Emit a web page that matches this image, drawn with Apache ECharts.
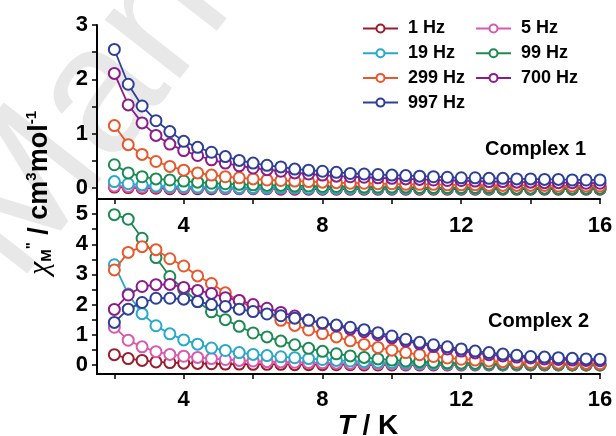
<!DOCTYPE html>
<html>
<head>
<meta charset="utf-8">
<title>chi'' vs T</title>
<script src="https://cdn.jsdelivr.net/npm/echarts@6/dist/echarts.min.js"></script>
<style>
    html, body { margin: 0; padding: 0; background: #fff; }
    #main { width: 616px; height: 436px; }
</style>
</head>
<body>
<div id="main"></div>
<script>
    // temperatures (K), shared by every curve
    var temps = [2.0, 2.4, 2.8, 3.2, 3.6, 4.0, 4.4, 4.8, 5.2, 5.6, 6.0, 6.4, 6.8, 7.2, 7.6, 8.0, 8.4, 8.8,
        9.2, 9.6, 10.0, 10.4, 10.8, 11.2, 11.6, 12.0, 12.4, 12.8, 13.2, 13.6, 14.0, 14.4, 14.8, 15.2, 15.6, 16.0];
    var freqs = ['1 Hz', '5 Hz', '19 Hz', '99 Hz', '299 Hz', '700 Hz', '997 Hz'];
    var colors = ['#9a1d2e', '#d65aae', '#27a9cb', '#1c8a52', '#e8582c', '#8b1c8a', '#2e3f97'];

    // Complex 1 (top panel)
    var c1_f1 = [0.02, 0.01, 0.0, 0.0, -0.01, -0.01, -0.01, -0.01, -0.01, -0.01, -0.01, -0.01, -0.02, -0.02, -0.02, -0.02, -0.02, -0.02,
        -0.02, -0.02, -0.02, -0.02, -0.02, -0.02, -0.02, -0.02, -0.02, -0.02, -0.02, -0.02, -0.02, -0.02, -0.02, -0.02, -0.02, -0.02];
    var c1_f5 = [0.04, 0.03, 0.02, 0.02, 0.01, 0.01, 0.01, 0.01, 0.0, 0.0, 0.0, 0.0, 0.0, 0.0, 0.0, 0.0, 0.0, 0.0,
        0.0, 0.0, 0.0, 0.0, 0.0, 0.0, 0.0, 0.0, 0.0, 0.0, 0.0, 0.0, 0.0, 0.0, 0.0, 0.0, 0.0, 0.0];
    var c1_f19 = [0.12, 0.08, 0.06, 0.04, 0.03, 0.03, 0.02, 0.02, 0.02, 0.01, 0.01, 0.01, 0.01, 0.01, 0.0, 0.0, 0.0, 0.0,
        0.0, 0.0, 0.0, 0.0, 0.0, 0.0, 0.0, 0.0, 0.0, 0.0, 0.0, 0.0, 0.0, 0.0, 0.0, 0.0, 0.0, 0.0];
    var c1_f99 = [0.43, 0.28, 0.21, 0.17, 0.15, 0.13, 0.11, 0.09, 0.08, 0.07, 0.06, 0.05, 0.05, 0.04, 0.04, 0.03, 0.03, 0.03,
        0.02, 0.02, 0.02, 0.02, 0.01, 0.01, 0.01, 0.01, 0.01, 0.01, 0.0, 0.0, 0.0, 0.0, 0.0, 0.0, 0.0, 0.0];
    var c1_f299 = [1.15, 0.80, 0.62, 0.49, 0.40, 0.33, 0.28, 0.24, 0.21, 0.19, 0.17, 0.15, 0.14, 0.13, 0.12, 0.11, 0.10, 0.09,
        0.09, 0.08, 0.08, 0.07, 0.07, 0.07, 0.06, 0.06, 0.06, 0.05, 0.05, 0.05, 0.05, 0.05, 0.04, 0.04, 0.04, 0.04];
    var c1_f700 = [2.11, 1.53, 1.20, 0.97, 0.81, 0.69, 0.60, 0.52, 0.46, 0.41, 0.37, 0.34, 0.31, 0.28, 0.26, 0.24, 0.22, 0.21,
        0.20, 0.19, 0.18, 0.17, 0.16, 0.15, 0.14, 0.14, 0.13, 0.12, 0.12, 0.11, 0.11, 0.10, 0.10, 0.10, 0.09, 0.09];
    var c1_f997 = [2.55, 1.91, 1.51, 1.24, 1.04, 0.86, 0.75, 0.66, 0.58, 0.51, 0.46, 0.42, 0.39, 0.35, 0.33, 0.31, 0.29, 0.27,
        0.26, 0.25, 0.24, 0.23, 0.22, 0.21, 0.20, 0.19, 0.19, 0.18, 0.18, 0.17, 0.17, 0.16, 0.16, 0.15, 0.15, 0.15];

    // Complex 2 (bottom panel)
    var c2_f1 = [0.34, 0.21, 0.15, 0.10, 0.08, 0.06, 0.05, 0.04, 0.03, 0.03, 0.02, 0.02, 0.02, 0.01, 0.01, 0.01, 0.01, 0.01,
        0.0, 0.0, 0.0, 0.0, 0.0, 0.0, 0.0, 0.0, 0.0, 0.0, 0.0, 0.0, 0.0, 0.0, 0.0, 0.0, 0.0, 0.0];
    var c2_f5 = [1.25, 0.82, 0.60, 0.44, 0.35, 0.29, 0.25, 0.21, 0.18, 0.15, 0.13, 0.11, 0.10, 0.09, 0.08, 0.07, 0.06, 0.05,
        0.05, 0.04, 0.04, 0.03, 0.03, 0.03, 0.02, 0.02, 0.02, 0.02, 0.01, 0.01, 0.01, 0.01, 0.01, 0.01, 0.0, 0.0];
    var c2_f19 = [3.32, 2.35, 1.70, 1.30, 1.03, 0.83, 0.69, 0.56, 0.48, 0.41, 0.35, 0.31, 0.27, 0.24, 0.21, 0.18, 0.15, 0.13,
        0.11, 0.09, 0.08, 0.07, 0.06, 0.05, 0.04, 0.04, 0.03, 0.03, 0.02, 0.02, 0.02, 0.02, 0.01, 0.01, 0.01, 0.01];
    var c2_f99 = [4.98, 4.83, 4.20, 3.56, 2.93, 2.50, 2.10, 1.76, 1.50, 1.28, 1.06, 0.93, 0.79, 0.67, 0.55, 0.45, 0.37, 0.30,
        0.25, 0.20, 0.16, 0.13, 0.11, 0.09, 0.07, 0.06, 0.05, 0.04, 0.03, 0.03, 0.02, 0.02, 0.02, 0.01, 0.01, 0.01];
    var c2_f299 = [3.15, 3.73, 3.92, 3.82, 3.52, 3.28, 2.95, 2.70, 2.39, 2.13, 1.87, 1.71, 1.48, 1.31, 1.16, 1.04, 0.93, 0.80,
        0.68, 0.58, 0.49, 0.41, 0.34, 0.28, 0.23, 0.19, 0.16, 0.13, 0.11, 0.09, 0.08, 0.07, 0.06, 0.05, 0.05, 0.04];
    var c2_f700 = [1.84, 2.32, 2.60, 2.66, 2.67, 2.57, 2.47, 2.37, 2.23, 2.14, 2.00, 1.88, 1.74, 1.62, 1.49, 1.38, 1.29, 1.19,
        1.10, 1.00, 0.90, 0.79, 0.70, 0.61, 0.53, 0.46, 0.40, 0.34, 0.30, 0.26, 0.23, 0.20, 0.18, 0.16, 0.15, 0.14];
    var c2_f997 = [1.41, 1.85, 2.07, 2.21, 2.21, 2.18, 2.10, 2.00, 1.94, 1.85, 1.77, 1.69, 1.63, 1.55, 1.48, 1.40, 1.32, 1.25,
        1.17, 1.07, 0.96, 0.85, 0.75, 0.67, 0.60, 0.53, 0.46, 0.41, 0.36, 0.32, 0.28, 0.26, 0.24, 0.22, 0.20, 0.19];

    var complex1 = [c1_f1, c1_f5, c1_f19, c1_f99, c1_f299, c1_f700, c1_f997];
    var complex2 = [c2_f1, c2_f5, c2_f19, c2_f99, c2_f299, c2_f700, c2_f997];

    // ticks and labels
    var xTicks = [2, 4, 6, 8, 10, 12, 14, 16];
    var xLabels = [4, 8, 12, 16];
    var y1Ticks = [0, 0.5, 1, 1.5, 2, 2.5, 3];
    var y1Labels = [0, 1, 2, 3];
    var y2Ticks = [0, 0.5, 1, 1.5, 2, 2.5, 3, 3.5, 4, 4.5, 5];
    var y2Labels = [0, 1, 2, 3, 4, 5];

    var FONT = '"Liberation Sans", Arial, sans-serif';
    var myChart = echarts.init(document.getElementById('main'));

    function xAxis(gi, margin) {
        return {
            type: 'value', gridIndex: gi, min: 1.5, max: 16,
            axisLine: { onZero: false, lineStyle: { color: '#000', width: 2 } },
            axisTick: { customValues: xTicks, length: 5, lineStyle: { color: '#000', width: 1.5 } },
            axisLabel: { customValues: xLabels, margin: margin, color: '#000', fontSize: 22, fontWeight: 'bold', fontFamily: FONT },
            splitLine: { show: false }
        };
    }
    function yAxis(gi, min, max, ticks, labels) {
        return {
            type: 'value', gridIndex: gi, min: min, max: max,
            axisLine: { show: true, onZero: false, lineStyle: { color: '#000', width: 2 } },
            axisTick: { show: true, customValues: ticks, length: 5, lineStyle: { color: '#000', width: 1.5 } },
            axisLabel: { customValues: labels, margin: 9, color: '#000', fontSize: 22, fontWeight: 'bold', fontFamily: FONT },
            splitLine: { show: false }
        };
    }

    function createSeries() {
        var result = [];
        [complex1, complex2].forEach(function (panel, gi) {
            for (var i = 0; i < freqs.length; i++) {
                result.push({
                    type: 'line',
                    name: freqs[i],
                    xAxisIndex: gi,
                    yAxisIndex: gi,
                    data: temps.map(function (t, k) { return [t, panel[i][k]]; }),
                    symbol: 'emptyCircle',
                    symbolSize: 11,
                    color: colors[i],
                    itemStyle: { color: colors[i], borderWidth: 1.5 },
                    lineStyle: { color: colors[i], width: 1.8 },
                    z: 2 + i,
                    animation: false
                });
            }
        });
        return result;
    }

    var legendText = { color: '#000', fontSize: 18, fontWeight: 'bold', fontFamily: FONT, lineHeight: 17, padding: [0, 0, 0, 5] };

    var option = {
        backgroundColor: '#fff',
        animation: false,
        grid: [
            { left: 97, top: 25, right: 16, height: 174 },
            { left: 97, top: 199, right: 16, height: 175 }
        ],
        xAxis: [xAxis(0, 16), xAxis(1, 15)],
        yAxis: [yAxis(0, -0.2, 3, y1Ticks, y1Labels), yAxis(1, -0.3, 5.5, y2Ticks, y2Labels)],
        legend: [
            {
                orient: 'vertical', left: 362, top: 19.5, padding: 0, itemWidth: 35, itemHeight: 10, itemGap: 6.7,
                data: ['1 Hz', '19 Hz', '299 Hz', '997 Hz'], textStyle: legendText
            },
            {
                orient: 'vertical', left: 475, top: 19.5, padding: 0, itemWidth: 35, itemHeight: 10, itemGap: 6.7,
                data: ['5 Hz', '99 Hz', '700 Hz'], textStyle: legendText
            }
        ],
        graphic: [
            {
                type: 'text', x: 50, y: 310, rotation: 52 * Math.PI / 180, z: -10, silent: true,
                style: { text: 'Manuscript', font: '180px ' + FONT, fill: '#e8e8e8', align: 'left', verticalAlign: 'bottom' }
            },
            {
                type: 'text', left: 485, top: 139,
                style: { text: 'Complex 1', font: 'bold 20px ' + FONT, fill: '#000' }
            },
            {
                type: 'text', left: 488, top: 311,
                style: { text: 'Complex 2', font: 'bold 20px ' + FONT, fill: '#000' }
            },
            {
                type: 'text', x: 368, y: 426,
                style: {
                    text: '{i|T}{n| / K}', align: 'center', verticalAlign: 'middle', fill: '#000',
                    rich: {
                        i: { fontSize: 28, fontWeight: 'bold', fontStyle: 'italic', fontFamily: FONT },
                        n: { fontSize: 28, fontWeight: 'bold', fontFamily: FONT }
                    }
                }
            },
            {
                type: 'text', x: 40, y: 193, rotation: Math.PI / 2,
                style: {
                    text: '{chi|χ}{sub|M}{sup|"}{n| / cm}{sup|3}{n|mol}{sup|-1}',
                    align: 'center', verticalAlign: 'middle', fill: '#000',
                    rich: {
                        chi: { fontSize: 30, fontStyle: 'italic', fontFamily: '"Liberation Serif", serif', lineHeight: 32 },
                        sub: { fontSize: 15, fontWeight: 'bold', fontFamily: FONT, verticalAlign: 'bottom', lineHeight: 32, padding: [0, 0, 2, 0] },
                        sup: { fontSize: 15, fontWeight: 'bold', fontFamily: FONT, verticalAlign: 'top', lineHeight: 32 },
                        n: { fontSize: 27, fontWeight: 'bold', fontFamily: FONT, lineHeight: 32 }
                    }
                }
            }
        ],
        series: createSeries()
    };

    myChart.setOption(option);
</script>
</body>
</html>
